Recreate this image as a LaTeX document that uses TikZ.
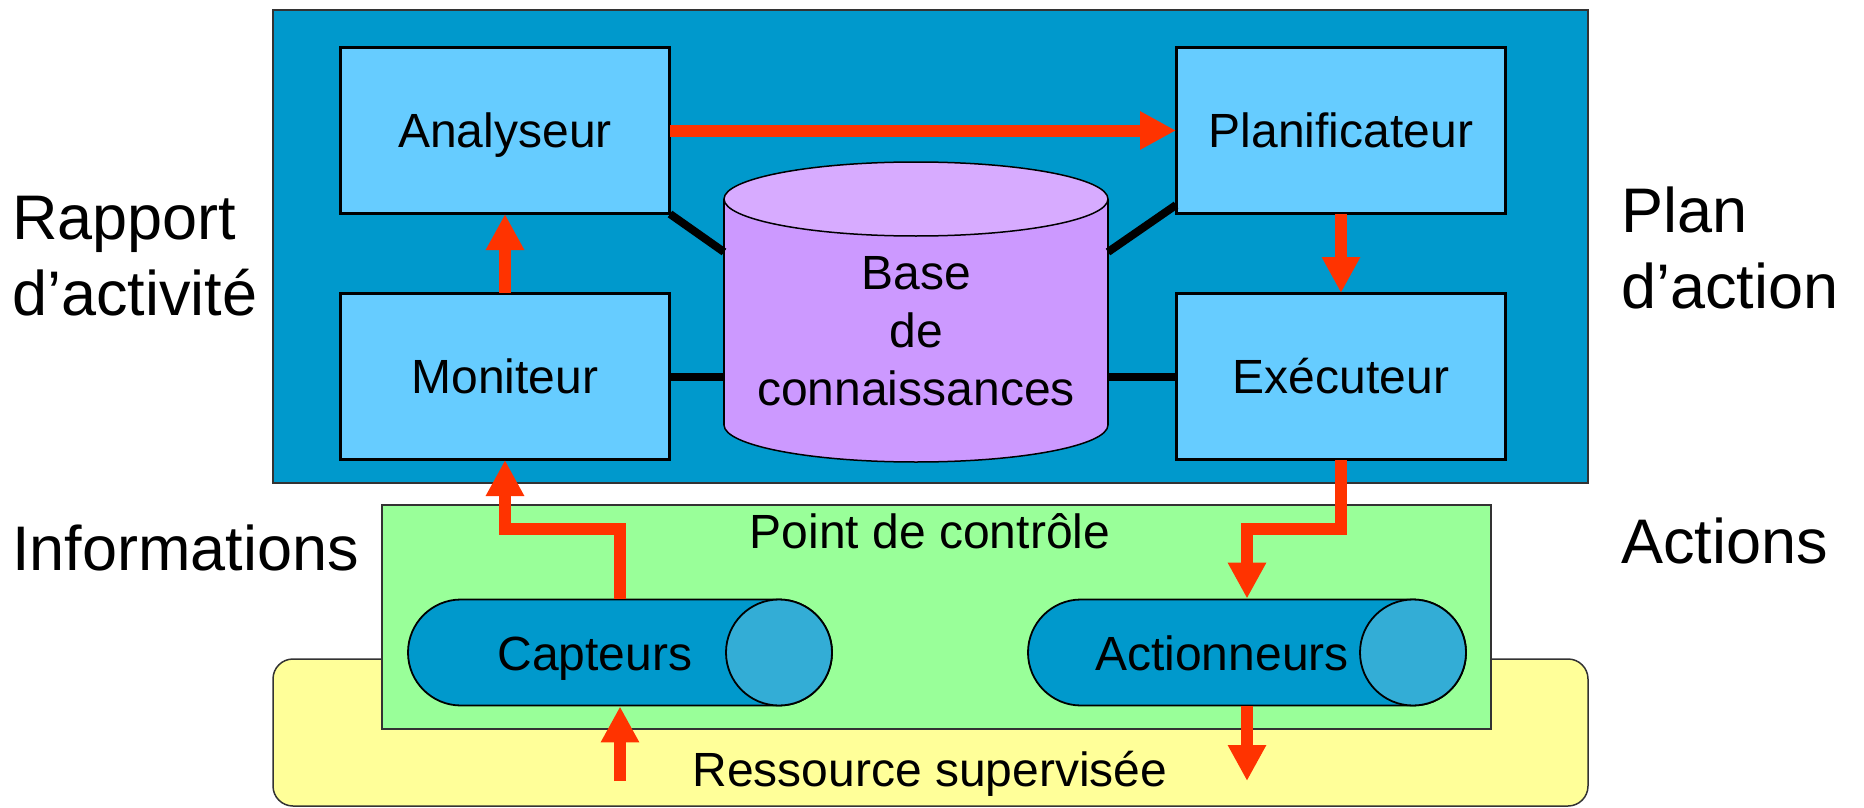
\documentclass[tikz,border=0pt]{standalone}
\usepackage{fontspec}
\setmainfont{Liberation Sans}
\usetikzlibrary{arrows.meta}

\definecolor{frameblue}{HTML}{0099CC}
\definecolor{moduleblue}{HTML}{66CCFF}
\definecolor{kbbody}{HTML}{CC99FF}
\definecolor{kbtop}{HTML}{D7ABFF}
\definecolor{ctrlgreen}{HTML}{99FF99}
\definecolor{resyellow}{HTML}{FFFF99}
\definecolor{devicelight}{HTML}{33ADD6}
\definecolor{flowred}{HTML}{FF3300}

\begin{document}
\begin{tikzpicture}[x=1pt,y=-1pt,
  every node/.style={inner sep=0pt, font=\fontsize{48}{58}\selectfont},
  zone/.style={draw=black!80, line width=2pt, minimum width=#1},
  module/.style={draw=black, line width=2pt, fill=moduleblue,
    minimum width=328pt, minimum height=165pt,
    text height=34.5pt, text depth=0pt},
  device/.style={draw=black, line width=1.8pt, fill=frameblue,
    minimum height=106pt, rounded corners=53pt},
  sidelabel/.style={font=\fontsize{63}{76}\selectfont, align=left, anchor=base west},
  link/.style={draw=black, line width=8pt},
  flow/.style={draw=flowred, line width=12pt, line join=miter,
    -{Triangle[width=36pt,length=36pt]}}
]
\useasboundingbox (0,0) rectangle (1864,808);
\fill[white] (0,0) rectangle (1864,808);

% supervised resource, control point and autonomic manager frames
\node[draw=black!80, line width=1.5pt, fill=resyellow, rounded corners=20pt,
  minimum width=1315pt, minimum height=147pt] (res) at (930.5,732.5) {};
\node[anchor=base] (restxt) at (930,786) {Ressource supervisée};
\node[zone=1109pt, fill=ctrlgreen, minimum height=224pt] (ctrl) at (936.5,617) {};
\node[anchor=base] (ctrltxt) at (930,548) {Point de contrôle};
\node[zone=1315pt, fill=frameblue, minimum height=473pt] (mgr) at (930.5,246.5) {};

% knowledge base cylinder
\fill[kbbody, draw=black, line width=1.5pt] (916,425) ellipse [x radius=192, y radius=37];
\fill[kbbody] (724,199) rectangle (1108,425);
\draw[line width=1.5pt] (724,199) -- (724,425) (1108,199) -- (1108,425);
\fill[kbtop, draw=black, line width=1.5pt] (916,199) ellipse [x radius=192, y radius=37];
\node[minimum width=384pt, align=center] (kb) at (916,331) {Base\\de\\connaissances};
\coordinate (kbl) at (724,252);
\coordinate (kbr) at (1108,252);

% modules
\node[module] (ana) at (505,130.5) {Analyseur};
\node[module] (pla) at (1341,130.5) {Planificateur};
\node[module] (mon) at (505,376.5) {Moniteur};
\node[module] (exe) at (1341,376.5) {Exécuteur};

% links to the knowledge base
\draw[link] (ana.south east) -- (kbl);
\draw[link] ([yshift=9pt]pla.south west) -- (kbr);
\draw[link] (mon.east) -- (mon.east -| kb.west);
\draw[link] (exe.west) -- (exe.west -| kb.east);
\foreach \m in {ana,pla,mon,exe} \draw[line width=2pt] (\m.south west) rectangle (\m.north east);

% sensors and effectors
\node[device, minimum width=424pt] (cap) at (620,652.5) {};
\fill[devicelight, draw=black, line width=1.8pt] (779,652.5) circle [radius=53];
\node[anchor=base] (captxt) at (595,670) {Capteurs};
\node[device, minimum width=438pt] (act) at (1247,652.5) {};
\fill[devicelight, draw=black, line width=1.8pt] (1413,652.5) circle [radius=53];
\node[anchor=base] (acttxt) at (1222,670) {Actionneurs};

% flows
\coordinate (capbend) at (505,529);
\coordinate (actbend) at (1247,529);
\coordinate (capin) at (620,781);
\coordinate (actout) at (1247,781);
\draw[flow] (ana.east) -- (pla.west);
\draw[flow] (mon.north) -- (ana.south);
\draw[flow] (pla.south) -- (exe.north);
\draw[flow] (cap.north) |- (capbend) -- (mon.south);
\draw[flow] (exe.south) |- (actbend) -- (act.north);
\draw[flow] (capin) -- (cap.south);
\draw[flow] (act.south) -- (actout);

% side labels (base anchor sits on the last line)
\node[sidelabel] (rapport) at (12,315) {Rapport\\d’activité};
\node[sidelabel] (infos) at (12,570) {Informations};
\node[sidelabel] (plan) at (1621,308) {Plan\\d’action};
\node[sidelabel] (actions) at (1621,563) {Actions};
\end{tikzpicture}
\end{document}
